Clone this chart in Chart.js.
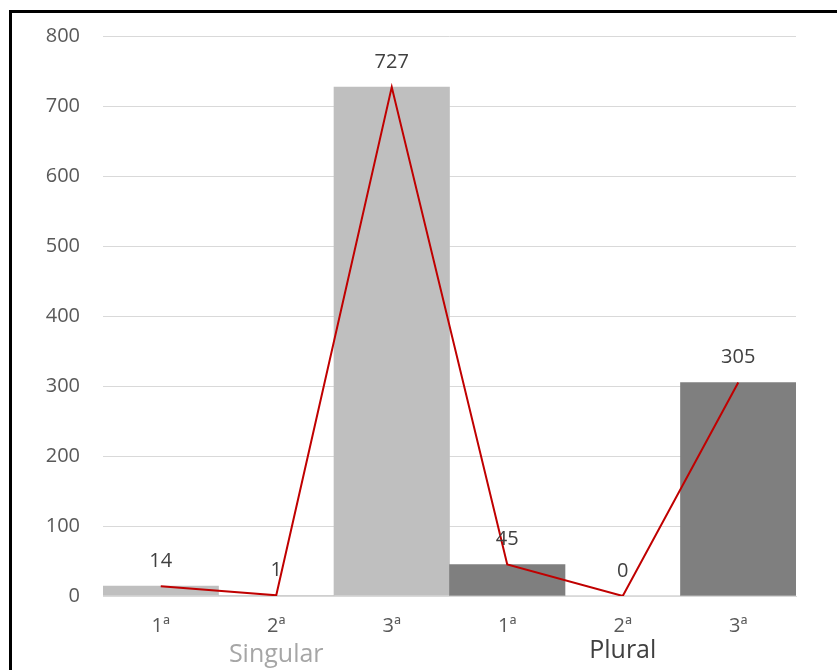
<!DOCTYPE html>
<html>
<head>
<meta charset="utf-8">
<script src="https://cdn.jsdelivr.net/npm/chart.js@4"></script>
<style>
  html, body { margin: 0; padding: 0; background: #fff; }
  #wrap { width: 837px; height: 670px; }
</style>
</head>
<body>
<div id="wrap"><canvas id="chart" width="837" height="670"></canvas></div>
<script>
const categories = ['1ª', '2ª', '3ª', '1ª', '2ª', '3ª'];
const values = [14, 1, 727, 45, 0, 305];
const groups = ['Singular', 'Plural'];
const barColors = ['#BFBFBF', '#BFBFBF', '#BFBFBF', '#7F7F7F', '#7F7F7F', '#7F7F7F'];
const yTicks = [0, 100, 200, 300, 400, 500, 600, 700, 800];

const FONT = '"Open Sans", "Liberation Sans", sans-serif';

// labels, group names and the outer frame
const extras = {
  id: 'extras',
  afterDatasetsDraw(chart) {
    const { ctx } = chart;
    const x = chart.scales.x, y = chart.scales.y;
    ctx.save();
    ctx.font = '20px ' + FONT;
    ctx.fillStyle = '#404040';
    ctx.textAlign = 'center';
    ctx.textBaseline = 'middle';
    values.forEach((v, i) => {
      ctx.fillText(String(v), x.getPixelForValue(i), y.getPixelForValue(v) - 25);
    });

    ctx.font = '25px ' + FONT;
    ctx.fillStyle = '#A6A6A6';
    ctx.fillText(groups[0], x.getPixelForValue(1), 655);
    ctx.fillStyle = '#404040';
    ctx.fillText(groups[1], x.getPixelForValue(4), 651);

    ctx.strokeStyle = '#000';
    ctx.lineWidth = 3;
    ctx.strokeRect(10.5, 11.5, 900, 700);
    ctx.restore();
  }
};

new Chart(document.getElementById('chart').getContext('2d'), {
  data: {
    labels: categories,
    datasets: [
      {
        type: 'line',
        data: values,
        borderColor: '#C00000',
        borderWidth: 2,
        pointRadius: 0,
        tension: 0,
        order: 0
      },
      {
        type: 'bar',
        data: values,
        backgroundColor: barColors,
        categoryPercentage: 1,
        barPercentage: 1,
        order: 1
      }
    ]
  },
  options: {
    responsive: false,
    animation: false,
    layout: { padding: { left: 10, top: 36, right: 41, bottom: 0 } },
    plugins: { legend: { display: false }, tooltip: { enabled: false } },
    scales: {
      x: {
        grid: { display: false, drawTicks: false },
        border: { color: '#D9D9D9', width: 1 },
        ticks: { color: '#595959', font: { size: 20, family: FONT }, padding: 18 },
        afterFit(scale) { scale.height = 74; }
      },
      y: {
        min: 0,
        max: 800,
        afterBuildTicks(scale) { scale.ticks = yTicks.map(v => ({ value: v })); },
        grid: { color: '#D9D9D9', drawTicks: false },
        border: { display: false },
        ticks: { color: '#595959', font: { size: 20, family: FONT }, padding: 23 },
        afterFit(scale) { scale.width = 93; }
      }
    }
  },
  plugins: [extras]
});
</script>
</body>
</html>
